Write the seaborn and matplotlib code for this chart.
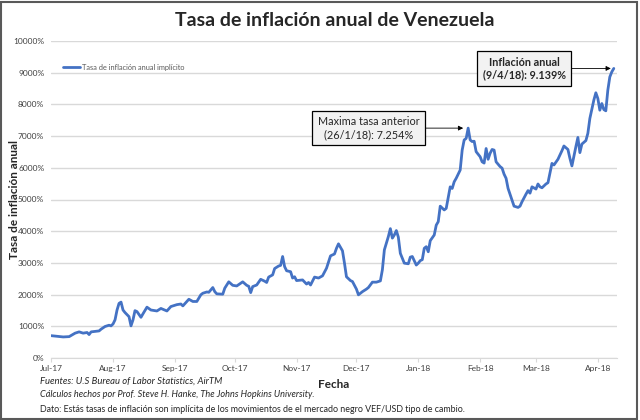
import pandas as pd
import matplotlib
matplotlib.use("Agg")
import matplotlib.pyplot as plt
import matplotlib.dates as mdates
from matplotlib.patches import Rectangle
import seaborn as sns

# Datos (tasa anual implicita, %)
fechas = [
    "2017-07-01", "2017-07-04", "2017-07-07", "2017-07-10", "2017-07-13", "2017-07-15", "2017-07-17",
    "2017-07-19", "2017-07-20", "2017-07-21", "2017-07-25", "2017-07-26", "2017-07-28", "2017-07-30",
    "2017-07-31",
    "2017-08-01", "2017-08-02", "2017-08-03", "2017-08-04", "2017-08-05", "2017-08-06", "2017-08-07",
    "2017-08-09", "2017-08-10", "2017-08-11", "2017-08-12", "2017-08-13", "2017-08-15", "2017-08-16",
    "2017-08-18", "2017-08-20", "2017-08-23", "2017-08-25", "2017-08-28", "2017-08-30",
    "2017-09-02", "2017-09-04", "2017-09-05", "2017-09-08", "2017-09-10", "2017-09-12", "2017-09-14",
    "2017-09-15", "2017-09-17", "2017-09-18", "2017-09-20", "2017-09-21", "2017-09-22", "2017-09-25",
    "2017-09-26", "2017-09-28", "2017-09-30",
    "2017-10-02", "2017-10-05", "2017-10-07", "2017-10-08", "2017-10-09", "2017-10-10", "2017-10-12",
    "2017-10-14", "2017-10-16", "2017-10-17", "2017-10-18", "2017-10-20", "2017-10-21", "2017-10-23",
    "2017-10-24", "2017-10-25", "2017-10-26", "2017-10-27", "2017-10-29", "2017-10-30", "2017-10-31",
    "2017-11-01", "2017-11-04", "2017-11-06", "2017-11-07", "2017-11-08", "2017-11-10", "2017-11-12",
    "2017-11-14", "2017-11-16", "2017-11-18", "2017-11-20", "2017-11-21", "2017-11-22", "2017-11-24",
    "2017-11-25", "2017-11-26", "2017-11-28", "2017-11-29",
    "2017-12-01", "2017-12-02", "2017-12-04", "2017-12-06", "2017-12-07", "2017-12-09", "2017-12-11",
    "2017-12-13", "2017-12-14", "2017-12-15", "2017-12-17", "2017-12-18", "2017-12-19", "2017-12-20",
    "2017-12-21", "2017-12-22", "2017-12-23", "2017-12-25", "2017-12-27", "2017-12-28", "2017-12-29",
    "2017-12-31",
    "2018-01-01", "2018-01-02", "2018-01-03", "2018-01-04", "2018-01-05", "2018-01-06", "2018-01-07",
    "2018-01-09", "2018-01-10", "2018-01-11", "2018-01-12", "2018-01-14", "2018-01-15", "2018-01-17",
    "2018-01-18", "2018-01-19", "2018-01-20", "2018-01-22", "2018-01-23", "2018-01-24", "2018-01-25",
    "2018-01-26", "2018-01-27", "2018-01-28", "2018-01-29", "2018-01-30",
    "2018-02-01", "2018-02-02", "2018-02-03", "2018-02-04", "2018-02-05", "2018-02-06", "2018-02-07",
    "2018-02-08", "2018-02-09", "2018-02-11", "2018-02-12", "2018-02-13", "2018-02-14", "2018-02-15",
    "2018-02-17", "2018-02-18", "2018-02-20", "2018-02-21", "2018-02-22", "2018-02-24", "2018-02-25",
    "2018-02-26", "2018-02-27",
    "2018-03-01", "2018-03-02", "2018-03-03", "2018-03-04", "2018-03-06", "2018-03-07", "2018-03-09",
    "2018-03-10", "2018-03-12", "2018-03-14", "2018-03-15", "2018-03-17", "2018-03-18", "2018-03-19",
    "2018-03-20", "2018-03-21", "2018-03-22", "2018-03-23", "2018-03-24", "2018-03-26", "2018-03-27",
    "2018-03-28", "2018-03-30", "2018-03-31",
    "2018-04-01", "2018-04-02", "2018-04-03", "2018-04-04", "2018-04-05", "2018-04-06", "2018-04-07",
    "2018-04-08", "2018-04-09",
]
inflacion = [
    700, 680, 660, 670, 780, 820, 780,
    800, 735, 820, 850, 905, 990, 1030,
    1010,
    1070, 1200, 1510, 1720, 1760, 1510, 1430,
    1300, 1010, 1200, 1490, 1460, 1280, 1390,
    1600, 1510, 1480, 1560, 1480, 1620,
    1680, 1700, 1640, 1850, 1780, 1780, 1990,
    2040, 2080, 2070, 2220, 2090, 2020, 2010,
    2200, 2400, 2290,
    2270, 2400, 2290, 2260, 2060, 2250, 2300,
    2480, 2420, 2380, 2550, 2620, 2820, 2900,
    2920, 3200, 2880, 2750, 2720, 2520, 2560,
    2440, 2460, 2330, 2380, 2300, 2550, 2520,
    2590, 2830, 3220, 3280, 3460, 3600, 3380,
    2990, 2560, 2440, 2410,
    2170, 1990, 2090, 2170, 2220, 2390, 2390,
    2430, 2780, 3410, 3830, 4080, 3780, 3880,
    4020, 3810, 3300, 2990, 2970, 3180, 3200,
    2930,
    2990, 3070, 3100, 3460, 3510, 3350, 3700,
    3880, 4190, 4300, 4790, 4670, 4720, 5400,
    5350, 5560, 5670, 5930, 6560, 6880, 6930,
    7254, 6880, 6830, 6840, 6510,
    6350, 6190, 6150, 6610, 6270, 6460, 6580,
    6560, 6190, 6040, 5990, 5800, 5670, 5350,
    4980, 4790, 4750, 4790, 4930, 5170, 5280,
    5200, 5400,
    5330, 5490, 5400, 5370, 5490, 5530, 6140,
    6090, 6270, 6540, 6690, 6580, 6300, 6060,
    6370, 6670, 6960, 6480, 6750, 6860, 7090,
    7560, 8140, 8370,
    8190, 7820, 8030, 7840, 7800, 8450, 8870,
    9030, 9139,
]
serie = "Tasa de inflación anual implícito"

df = pd.DataFrame({"Fecha": pd.to_datetime(fechas), "Tasa": inflacion})

sns.set_style("white")
plt.rcParams["font.family"] = ["Lato", "DejaVu Sans"]

fig = plt.figure(figsize=(6.4, 4.2), dpi=100)
ax = fig.add_axes([0.08, 0.148, 0.884, 0.754])

sns.lineplot(data=df, x="Fecha", y="Tasa", color="#4472C4", linewidth=2, label=serie, ax=ax)

ax.set_xlim(pd.Timestamp("2017-07-01"), pd.Timestamp("2018-04-10 14:00"))
ax.set_ylim(0, 10000)
ax.set_yticks(range(0, 10001, 1000))
ax.set_yticklabels([f"{v}%" for v in range(0, 10001, 1000)], fontsize=6, color="#404040")
ax.yaxis.grid(True, color="#d9d9d9", linewidth=1)
ax.tick_params(axis="y", length=0, pad=5)

ax.xaxis.set_major_locator(mdates.MonthLocator())
ax.xaxis.set_major_formatter(mdates.DateFormatter("%b-%y"))
ax.tick_params(axis="x", labelsize=6, labelcolor="#404040", length=3, color="#d9d9d9",
               direction="out", pad=2, bottom=True)
for lab in ax.get_xticklabels():
    lab.set_rotation(0)

for s in ["left", "right", "top"]:
    ax.spines[s].set_visible(False)
ax.spines["bottom"].set_color("#d9d9d9")

ax.set_xlabel("Fecha", fontsize=8.5, fontweight="bold")
ax.xaxis.set_label_coords(0.5, -0.066)
ax.set_ylabel("Tasa de inflación anual", fontsize=8.5, fontweight="bold")
ax.yaxis.set_label_coords(-0.055, 0.5)

leg = ax.legend(loc="upper left", bbox_to_anchor=(0.01, 0.95), frameon=False, fontsize=5.3,
                handlelength=2.3, handletextpad=0.2)
for t in leg.get_texts():
    t.set_color("#595959")

caja = dict(boxstyle="square,pad=0.5", facecolor="#f2f2f2", edgecolor="black", linewidth=0.9)
ax.annotate("Maxima tasa anterior\n(26/1/18): 7.254%",
            xy=(pd.Timestamp("2018-01-23 12:00"), 7254),
            xytext=(pd.Timestamp("2017-12-07"), 7254),
            ha="center", va="center", fontsize=7.8, bbox=caja,
            arrowprops=dict(arrowstyle="-|>", color="black", lw=0.6, relpos=(1, 0.5),
                            shrinkA=0, shrinkB=0, mutation_scale=7))
ax.annotate("Inflación anual\n(9/4/18): 9.139%",
            xy=(pd.Timestamp("2018-04-07 12:00"), 9139),
            xytext=(pd.Timestamp("2018-02-23"), 9139),
            ha="center", va="center", fontsize=7.8, fontweight="bold", bbox=caja,
            arrowprops=dict(arrowstyle="-|>", color="black", lw=0.6, relpos=(1, 0.5),
                            shrinkA=0, shrinkB=0, mutation_scale=7))

fig.text(0.523, 0.952, "Tasa de inflación anual de Venezuela", ha="center", va="center",
         fontsize=14, fontweight="bold")

fig.text(0.0625, 0.093, "Fuentes: U.S Bureau of Labor Statistics, AirTM",
         fontsize=6.8, style="italic", va="center")
fig.text(0.0625, 0.060, "Cálculos hechos por Prof. Steve H. Hanke, The Johns Hopkins University.",
         fontsize=6.6, style="italic", va="center")
fig.text(0.0625, 0.026,
         "Dato: Estás tasas de inflación son implícita de los movimientos de el mercado negro VEF/USD tipo de cambio.",
         fontsize=6.4, va="center")

fig.patches.append(Rectangle((0.002, 0.003), 0.993, 0.993, transform=fig.transFigure,
                             fill=False, edgecolor="#595959", linewidth=1.5))

fig.savefig("out.png", dpi=100)
